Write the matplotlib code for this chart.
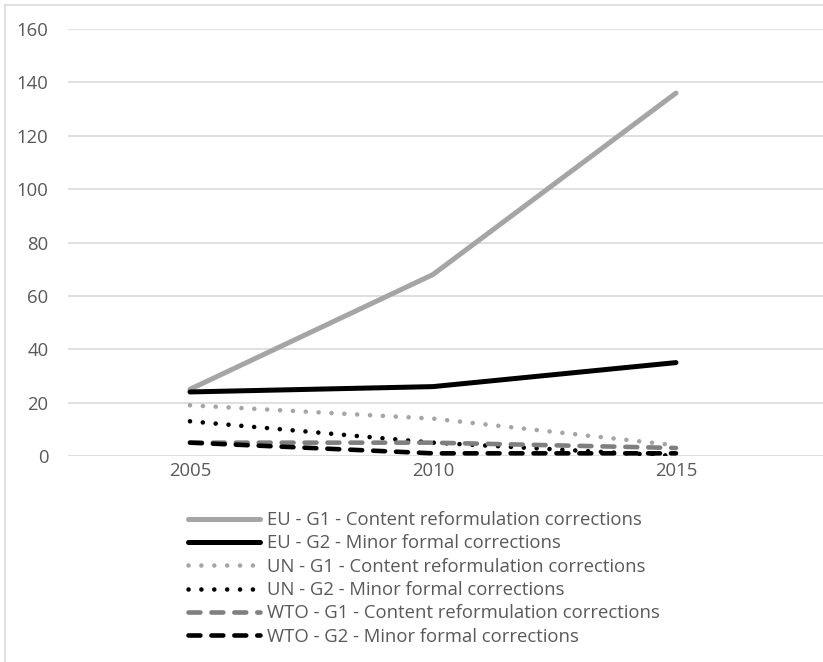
import matplotlib
matplotlib.use('Agg')
import matplotlib.pyplot as plt
from matplotlib.patches import Rectangle

# Anos e numero de correcoes por grupo
anos = ['2005', '2010', '2015']
eu_g1 = [25, 68, 136]
eu_g2 = [24, 26, 35]
un_g1 = [19, 14, 4]
un_g2 = [13, 5, 0]
wto_g1 = [5, 5, 3]
wto_g2 = [5, 1, 1]

nomes = ['EU - G1 - Content reformulation corrections',
         'EU - G2 - Minor formal corrections',
         'UN - G1 - Content reformulation corrections',
         'UN - G2 - Minor formal corrections',
         'WTO - G1 - Content reformulation corrections',
         'WTO - G2 - Minor formal corrections']

plt.rcParams['font.family'] = ['Open Sans', 'DejaVu Sans']
cor_texto = '#595959'

fig = plt.figure(figsize=(8.23, 6.62), dpi=100)
ax = fig.add_axes([68 / 823, 1 - 456 / 662, 1 - 68 / 823, (456 - 29) / 662])

x = list(range(len(anos)))
ponto = (0, (0.01, 2.8))
traco = (0, (2.6, 2.4))

ax.plot(x, eu_g1, color='#a5a5a5', lw=3.6, solid_capstyle='round', label=nomes[0])
ax.plot(x, eu_g2, color='#000000', lw=3.6, solid_capstyle='round', label=nomes[1])
ax.plot(x, un_g1, color='#a5a5a5', lw=3.3, linestyle=ponto, dash_capstyle='round', label=nomes[2])
ax.plot(x, un_g2, color='#000000', lw=3.3, linestyle=ponto, dash_capstyle='round', label=nomes[3])
ax.plot(x, wto_g1, color='#7f7f7f', lw=3.3, linestyle=traco, dash_capstyle='round', label=nomes[4])
ax.plot(x, wto_g2, color='#000000', lw=3.3, linestyle=traco, dash_capstyle='round', label=nomes[5])

ax.set_xlim(-0.502, 2.605)
ax.set_ylim(0, 160)
ax.set_yticks(range(0, 161, 20))
ax.set_xticks(x)
ax.set_xticklabels(anos)

# Grade horizontal cinza clara, sem moldura
ax.grid(axis='y', color='#d9d9d9', lw=1.2)
ax.set_axisbelow(True)
for lado in ax.spines.values():
    lado.set_visible(False)
ax.tick_params(length=0, labelsize=13.3, colors=cor_texto)
ax.tick_params(axis='y', pad=14)
ax.tick_params(axis='x', pad=4)

leg = ax.legend(loc='upper left', bbox_to_anchor=(188 / 823, 1 - 511 / 662),
                bbox_transform=fig.transFigure, frameon=False, fontsize=13.3,
                handlelength=3.9, handletextpad=0.38, labelspacing=0.29,
                borderpad=0, borderaxespad=0)
for t in leg.get_texts():
    t.set_color(cor_texto)

# Moldura externa do grafico
fig.patches.append(Rectangle((5 / 823, -0.1), 1.2, 1 - 5 / 662 + 0.1,
                             transform=fig.transFigure, fill=False,
                             edgecolor='#d9d9d9', lw=1.2))

fig.savefig('out.png', dpi=100)
